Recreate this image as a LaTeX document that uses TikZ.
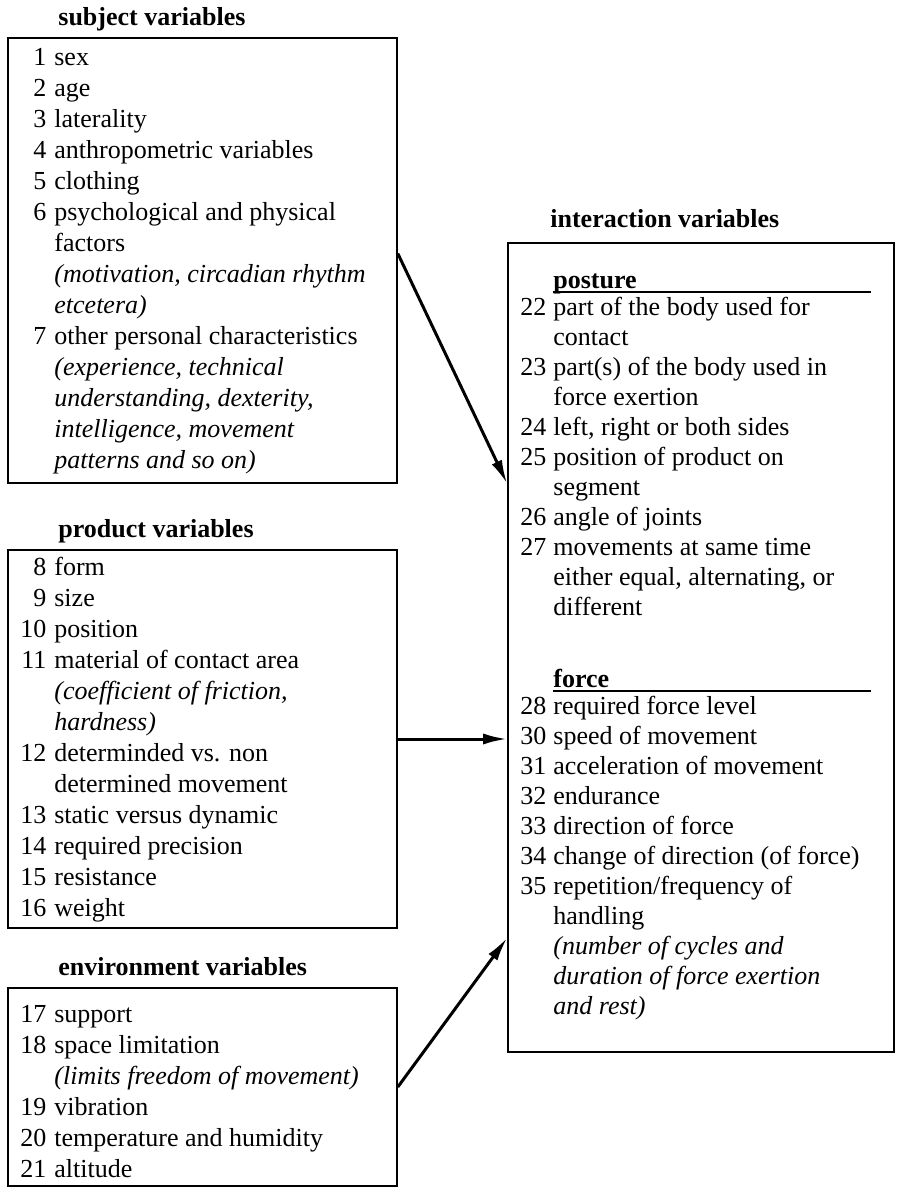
\documentclass[tikz,border=0pt]{standalone}
\usepackage{fontspec}
\setmainfont{Liberation Serif}
\usetikzlibrary{arrows.meta,positioning,fit,calc}

\newcommand{\grouphead}[1]{\makebox[0pt][l]{\rule[-2.4pt]{159pt}{0.8pt}}\textbf{#1}}

\begin{document}
\begin{tikzpicture}[x=0.5pt, y=-0.5pt,
    box/.style={draw, line width=0.8pt, inner sep=0pt},
    title/.style={anchor=base west, inner sep=0pt, font=\fontsize{13}{15.5}\selectfont\bfseries},
    items/.style={anchor=base west, inner sep=0pt, font=\fontsize{13}{15.5}\selectfont},
    conn/.style={line width=1.5pt, -{Latex[length=12pt, width=5.5pt]}}]

\useasboundingbox (0,0) rectangle (902,1190);

% ============================
\node[box, fit={(8,38) (397,483)}] (subj) {};
\node[title] (subjtitle) at (58,25) {subject variables};
\node[items] (subjlist) at (20,65) {\begin{tabular}[t]{@{}r@{\hspace{4pt}}l@{}}
    \phantom{0}1 & sex\\
    2 & age\\
    3 & laterality\\
    4 & anthropometric variables\\
    5 & clothing\\
    6 & psychological and physical\\
      & factors\\
      & \textit{(motivation, circadian rhythm}\\
      & \textit{etcetera)}\\
    7 & other personal characteristics\\
      & \textit{(experience, technical}\\
      & \textit{understanding, dexterity,}\\
      & \textit{intelligence, movement}\\
      & \textit{patterns and so on)}
\end{tabular}};

% ============================
\node[box, fit={(8,550) (397,928)}] (prod) {};
\node[title] (prodtitle) at (58,537) {product variables};
\node[items] (prodlist) at (20,575) {\begin{tabular}[t]{@{}r@{\hspace{4pt}}l@{}}
    8 & form\\
    9 & size\\
    10 & position\\
    11 & material of contact area\\
       & \textit{(coefficient of friction,}\\
       & \textit{hardness)}\\
    12 & determinded vs. non\\
       & determined movement\\
    13 & static versus dynamic\\
    14 & required precision\\
    15 & resistance\\
    16 & weight
\end{tabular}};

% ============================
\node[box, fit={(8,988) (397,1186)}] (envr) {};
\node[title] (envrtitle) at (58,975) {environment variables};
\node[items] (envrlist) at (20,1022) {\begin{tabular}[t]{@{}r@{\hspace{4pt}}l@{}}
    17 & support\\
    18 & space limitation\\
       & \textit{(limits freedom of movement)}\\
    19 & vibration\\
    20 & temperature and humidity\\
    21 & altitude
\end{tabular}};

% ============================
\node[box, fit={(508,243) (894,1052)}] (inter) {};
\node[title] (intertitle) at (550,227) {interaction variables};
\node[items, font=\fontsize{13}{15}\selectfont] (interlist) at (520,288) {\begin{tabular}[t]{@{}r@{\hspace{3.5pt}}l@{}}
       & \grouphead{posture}\\[-1.5pt]
    22 & part of the body used for\\
       & contact\\
    23 & part(s) of the body used in\\
       & force exertion\\
    24 & left, right or both sides\\
    25 & position of product on\\
       & segment\\
    26 & angle of joints\\
    27 & movements at same time\\
       & either equal, alternating, or\\
       & different\\[21pt]
       & \grouphead{force}\\[-1.5pt]
    28 & required force level\\
    30 & speed of movement\\
    31 & acceleration of movement\\
    32 & endurance\\
    33 & direction of force\\
    34 & change of direction (of force)\\
    35 & repetition/frequency of\\
       & handling\\
       & \textit{(number of cycles and}\\
       & \textit{duration of force exertion}\\
       & \textit{and rest)}
\end{tabular}};

% ============================
\draw[conn] ([yshift=3.5pt]subj.east) -- (inter.west |- subj.south);
\draw[conn] (prod.east) -- (inter.west |- prod.east);
\draw[conn] (envr.east) -- ($(inter.west |- prod.south)+(0,9)$);

\end{tikzpicture}
\end{document}
